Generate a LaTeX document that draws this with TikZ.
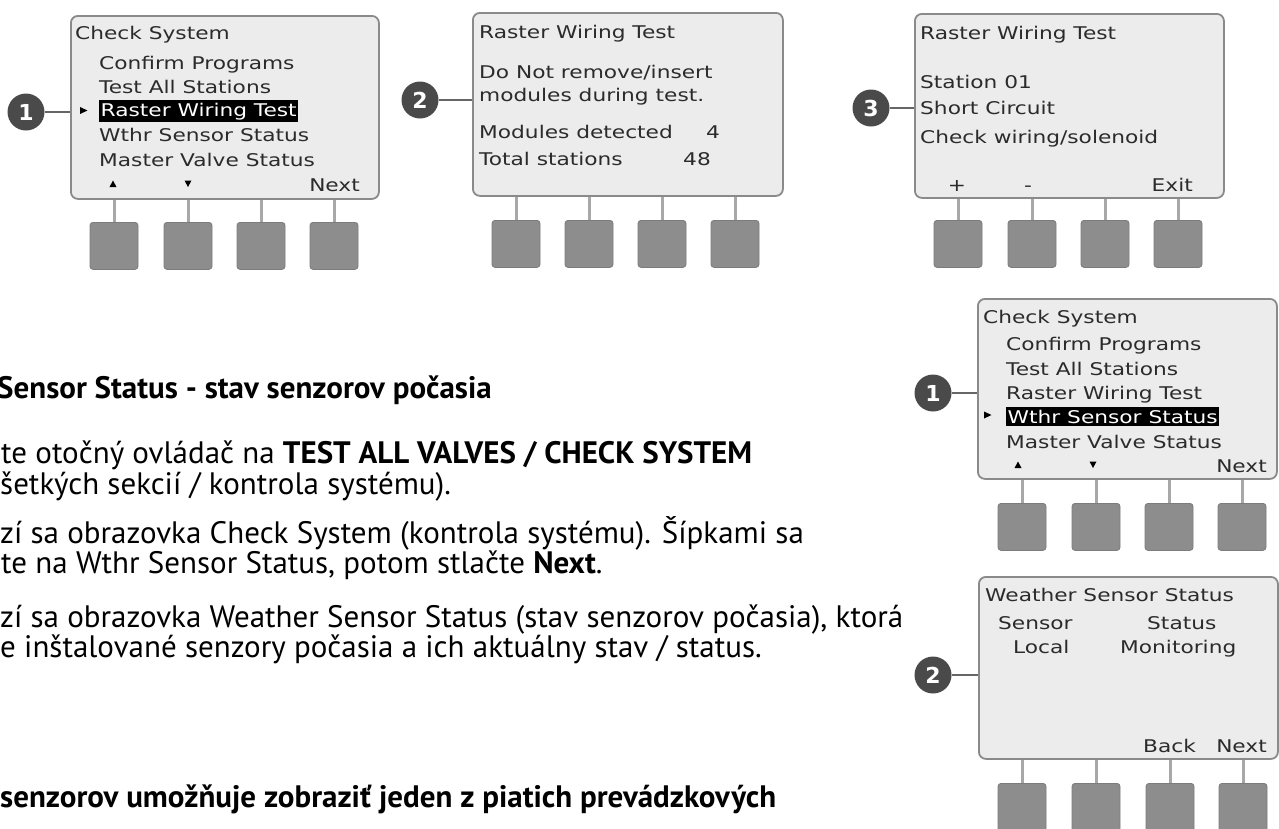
\documentclass[tikz,border=0pt]{standalone}
\usepackage{fontspec}
\setmainfont{PT Sans}
\newfontfamily\scrfont[FakeStretch=1.24]{DejaVu Sans}
\newfontfamily\numfont{DejaVu Sans}
\definecolor{scrfill}{HTML}{ECECEC}
\definecolor{scrborder}{HTML}{8A8A8A}
\definecolor{scrtext}{HTML}{2B2B2B}
\definecolor{btnfill}{HTML}{8D8D8D}
\definecolor{btnedge}{HTML}{7C7C7C}
\definecolor{stemcol}{HTML}{A8A8A8}
\definecolor{callcol}{HTML}{4A4A4A}
\definecolor{leadcol}{HTML}{666666}
\begin{document}
\begin{tikzpicture}[x=1pt,y=-1pt,
  screen/.style={draw=scrborder, line width=1.8pt, fill=scrfill, rounded corners=7pt, anchor=north west, inner sep=0pt},
  btn/.style={fill=btnfill, draw=btnedge, line width=0.8pt, rounded corners=3pt, anchor=north, inner sep=0pt, minimum width=48pt, minimum height=47pt},
  stem/.style={draw=stemcol, line width=3pt},
  scr/.style={font=\scrfont\fontsize{17.5}{20}\selectfont, text=scrtext, inner sep=0pt, anchor=base west},
  scre/.style={scr, anchor=base east},
  hl/.style={scr, fill=black, text=white, inner xsep=1.5pt, inner ysep=2.5pt},
  callout/.style={circle, fill=callcol, text=white, inner sep=0pt, minimum size=37pt, font=\numfont\bfseries\fontsize{22}{22}\selectfont},
  lead/.style={draw=leadcol, line width=1.5pt},
  body/.style={font=\fontsize{31}{33}\selectfont, inner sep=0pt, anchor=base west},
  bodyb/.style={body, font=\bfseries\fontsize{31}{33}\selectfont},
  tri/.style={fill=black}
]
\useasboundingbox (0,0) rectangle (1279,828);

% ---------------- Panel 1 ----------------
\node[screen, minimum width=308pt, minimum height=183pt] (p1) at (70,15) {};
\node[scr] (p1t1) at (75,39) {Check System};
\node[scr] (p1t2) at (99,69) {Confirm Programs};
\node[scr] (p1t3) at (99,93) {Test All Stations};
\node[hl]  (p1t4) at (99,116) {Raster Wiring Test};
\node[scr] (p1t5) at (99,141) {Wthr Sensor Status};
\node[scr] (p1t6) at (99,166) {Master Valve Status};
\node[scre] (p1next) at (360,191) {Next};
\fill[tri] (80,107) -- (87.5,110.5) -- (80,114) -- cycle;
\fill[tri] (109.5,187) -- (113,180.5) -- (116.5,187) -- cycle;
\fill[tri] (184.5,180.5) -- (188,187) -- (191.5,180.5) -- cycle;
\foreach \i/\x in {1/114,2/188,3/261,4/334}{
  \node[btn] (b1\i) at (\x,222) {};
  \draw[stem] (b1\i.north) -- (b1\i.north |- p1.south);
}
\node[callout] (c1) at (26,112) {1};
\draw[lead] (c1.east) -- (c1.east -| p1.west);

% ---------------- Panel 2 ----------------
\node[screen, minimum width=310pt, minimum height=183pt] (p2) at (472,12) {};
\node[scr] (p2t1) at (479,38) {Raster Wiring Test};
\node[scr] (p2t2) at (479,78) {Do Not remove/insert};
\node[scr] (p2t3) at (479,101) {modules during test.};
\node[scr] (p2t4) at (479,138) {Modules detected};
\node[scr, anchor=base] (p2n1) at (713,138) {4};
\node[scr] (p2t5) at (479,165) {Total stations};
\node[scr, anchor=base] (p2n2) at (697,165) {48};
\foreach \i/\x in {1/516,2/589,3/662,4/735}{
  \node[btn] (b2\i) at (\x,220) {};
  \draw[stem] (b2\i.north) -- (b2\i.north |- p2.south);
}
\node[callout] (c2) at (420,100) {2};
\draw[lead] (c2.east) -- (c2.east -| p2.west);

% ---------------- Panel 3 ----------------
\node[screen, minimum width=309pt, minimum height=184pt] (p3) at (914,13) {};
\node[scr] (p3t1) at (920,39) {Raster Wiring Test};
\node[scr] (p3t2) at (920,88) {Station 01};
\node[scr] (p3t3) at (920,114) {Short Circuit};
\node[scr] (p3t4) at (920,143) {Check wiring/solenoid};
\node[scr, anchor=base] (p3plus) at (957,191) {+};
\node[scr, anchor=base] (p3minus) at (1028,191) {-};
\node[scre] (p3exit) at (1193,191) {Exit};
\foreach \i/\x in {1/958,2/1032,3/1105,4/1178}{
  \node[btn] (b3\i) at (\x,220) {};
  \draw[stem] (b3\i.north) -- (b3\i.north |- p3.south);
}
\node[callout] (c3) at (871,108) {3};
\draw[lead] (c3.east) -- (c3.east -| p3.west);

% ---------------- Panel 4 ----------------
\node[screen, minimum width=299pt, minimum height=180pt] (p4) at (977,298) {};
\node[scr] (p4t1) at (983,323) {Check System};
\node[scr] (p4t2) at (1006,350) {Confirm Programs};
\node[scr] (p4t3) at (1006,375) {Test All Stations};
\node[scr] (p4t4) at (1006,399) {Raster Wiring Test};
\node[hl]  (p4t5) at (1006,423) {Wthr Sensor Status};
\node[scr] (p4t6) at (1006,448) {Master Valve Status};
\node[scre] (p4next) at (1267,472) {Next};
\fill[tri] (984,411.5) -- (991.5,415) -- (984,418.5) -- cycle;
\fill[tri] (1014.5,468) -- (1018,461.5) -- (1021.5,468) -- cycle;
\fill[tri] (1089.5,461.5) -- (1093,468) -- (1096.5,461.5) -- cycle;
\foreach \i/\x in {1/1022,2/1096,3/1169,4/1242}{
  \node[btn] (b4\i) at (\x,503) {};
  \draw[stem] (b4\i.north) -- (b4\i.north |- p4.south);
}
\node[callout] (c4) at (933,393) {1};
\draw[lead] (c4.east) -- (c4.east -| p4.west);

% ---------------- Panel 5 ----------------
\node[screen, minimum width=299pt, minimum height=182pt] (p5) at (978,576) {};
\node[scr] (p5t1) at (985,601) {Weather Sensor Status};
\node[scr] (p5t2) at (998,629) {Sensor};
\node[scr] (p5t3) at (1147,629) {Status};
\node[scr] (p5t4) at (1013,653) {Local};
\node[scr] (p5t5) at (1120,653) {Monitoring};
\node[scr] (p5back) at (1143,752) {Back};
\node[scre] (p5next) at (1267,752) {Next};
\foreach \i/\x in {1/1022,2/1096,3/1170,4/1243}{
  \node[btn, minimum height=52pt] (b5\i) at (\x,783) {};
  \draw[stem] (b5\i.north) -- (b5\i.north |- p5.south);
}
\node[callout] (c5) at (933,675) {2};
\draw[lead] (c5.east) -- (c5.east -| p5.west);

% ---------------- Body text ----------------
\node[bodyb] (h1) at (-3,398) {Sensor Status - stav senzorov počasia};
\node[body] (l1) at (1,463) {te otočný ovládač na \textbf{TEST ALL VALVES / CHECK SYSTEM}};
\node[body] (l2) at (0,494) {šetkých sekcií / kontrola systému).};
\node[body] (l3) at (0,543) {zí sa obrazovka Check System (kontrola systému). Šípkami sa};
\node[body] (l4) at (1,573) {te na Wthr Sensor Status, potom stlačte \textbf{Next}.};
\node[body] (l5) at (0,627) {zí sa obrazovka Weather Sensor Status (stav senzorov počasia), ktorá};
\node[body] (l6) at (0,657) {e inštalované senzory počasia a ich aktuálny stav / status.};
\node[bodyb] (l7) at (0,807) {senzorov umožňuje zobraziť jeden z piatich prevádzkových};
\end{tikzpicture}
\end{document}
